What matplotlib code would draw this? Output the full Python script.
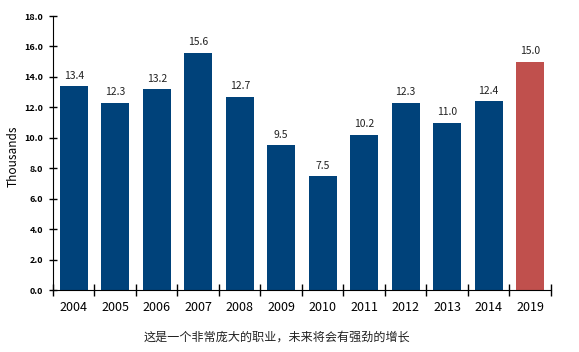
import numpy as np
import matplotlib.pyplot as plt

plt.rcParams['font.family'] = ['Noto Sans CJK SC', 'DejaVu Sans']

years = ['2004', '2005', '2006', '2007', '2008', '2009', '2010', '2011', '2012', '2013', '2014', '2019']
values = [13.4, 12.3, 13.2, 15.6, 12.7, 9.5, 7.5, 10.2, 12.3, 11.0, 12.4, 15.0]
blue = '#00427a'
red = '#c0504d'
colors = [blue] * 11 + [red]

fig = plt.figure(figsize=(5.79, 3.52), dpi=100)
ax = fig.add_axes([0.0915, 0.176, 0.86, 0.7785])

x = np.arange(len(years))
ax.bar(x, values, width=0.68, color=colors)
for xi, v in zip(x, values):
    ax.text(xi, v + 0.35, '%.1f' % v, ha='center', va='bottom', fontsize=7.5, color='#222222')

ax.set_xlim(-0.5, len(years) - 0.5)
ax.set_ylim(0, 18)
ax.set_yticks(np.arange(0, 18.1, 2))
ax.set_yticklabels(['%.1f' % t for t in np.arange(0, 18.1, 2)], fontsize=6.5, fontweight='bold')

# ticks at category boundaries, labels in the middle
ax.set_xticks(np.arange(-0.5, len(years), 1))
ax.set_xticklabels([])
ax.set_xticks(x, minor=True)
ax.set_xticklabels(years, minor=True, fontsize=9)
ax.tick_params(axis='x', which='major', direction='inout', length=8, width=1)
ax.tick_params(axis='x', which='minor', length=0, pad=8)
ax.tick_params(axis='y', direction='inout', length=6, width=1, pad=4)

for s in ['top', 'right']:
    ax.spines[s].set_visible(False)

ax.set_ylabel('Thousands', fontsize=8.5)
ax.yaxis.set_label_coords(-0.066, 0.49)
fig.text(0.478, 0.043, '这是一个非常庞大的职业，未来将会有强劲的增长', ha='center', va='center', fontsize=8.7, color='#222222')

fig.savefig('out.png', dpi=100)
